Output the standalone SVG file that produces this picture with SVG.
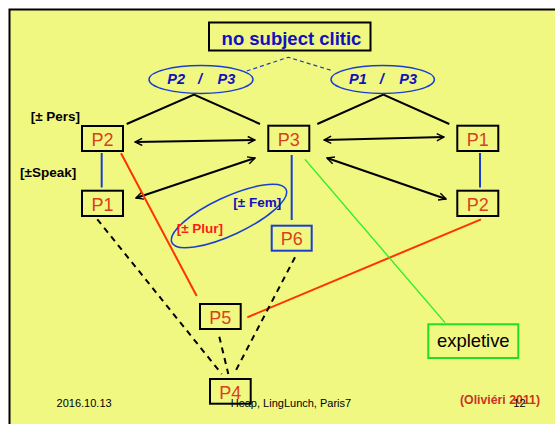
<svg xmlns="http://www.w3.org/2000/svg" width="555" height="424" viewBox="0 0 555 424">
<style>
.box{fill:none;stroke:#000;stroke-width:2}
.lbl{font-family:"Liberation Sans",Arial,sans-serif;font-size:18px;fill:#D9411E;text-anchor:middle}
.feat{font-family:"Liberation Sans",Arial,sans-serif;font-size:13.5px;font-weight:bold}
.ell{fill:none;stroke:#1A3FD0;stroke-width:1.5}
.ellt{font-family:"Liberation Sans",Arial,sans-serif;font-size:14.5px;font-weight:bold;font-style:italic;fill:#1010C0}
.tree{stroke:#000;stroke-width:2;fill:none}
.arr{stroke:#000;stroke-width:2;fill:none;marker-start:url(#ah);marker-end:url(#ah)}
.dash{stroke:#000;stroke-width:2;stroke-dasharray:6,5;fill:none}
.blue{stroke:#1A3FD0;stroke-width:2}
.red{stroke:#FF3300;stroke-width:2}
.foot{font-family:"Liberation Sans",Arial,sans-serif;font-size:11px;fill:#000}
</style>
<defs>
<marker id="ah" viewBox="0 0 10 10" refX="9" refY="5" markerWidth="9" markerHeight="9" markerUnits="userSpaceOnUse" orient="auto-start-reverse">
<path d="M1,1 L9,5 L1,9" fill="none" stroke="#000" stroke-width="1.6"/>
</marker>
</defs>
<rect x="0" y="0" width="555" height="424" fill="#fff"/>
<rect x="9.5" y="9.5" width="560" height="430" fill="#F0F882" stroke="#000" stroke-width="2"/>

<g id="connectors">
<polyline points="246.7,71 288.3,57.3 333.3,71" fill="none" stroke="#1A3FD0" stroke-width="1.2" stroke-dasharray="4,3"/>
<polyline class="tree" points="126.7,124 194,94.5 260,124"/>
<polyline class="tree" points="317.3,124 383.3,94.5 449.3,124"/>
<line class="arr" x1="135" y1="142" x2="255" y2="140"/>
<line class="arr" x1="136" y1="198" x2="255" y2="158"/>
<line class="arr" x1="324" y1="140" x2="444" y2="137"/>
<line class="arr" x1="327" y1="158" x2="446" y2="199"/>
<line class="blue" x1="101.7" y1="153" x2="101.7" y2="187.5"/>
<line class="blue" x1="480" y1="153" x2="480" y2="187.5"/>
<line class="blue" x1="291.7" y1="155" x2="291.7" y2="220"/>
<line class="red" x1="121" y1="153.3" x2="196.7" y2="296"/>
<line class="red" x1="481" y1="219.3" x2="247.3" y2="317.3"/>
<line x1="305" y1="159.3" x2="445" y2="322.7" stroke="#22EE22" stroke-width="1.3"/>
<line class="dash" x1="97.3" y1="219.3" x2="221.7" y2="374"/>
<line class="dash" x1="219.3" y1="336.7" x2="228.3" y2="374"/>
<line class="dash" x1="295" y1="257.3" x2="234" y2="374"/>
</g>

<g id="title">
<rect x="209" y="22.5" width="161.5" height="28" fill="none" stroke="#000" stroke-width="2"/>
<text x="291.5" y="45" font-family="Liberation Sans,Arial,sans-serif" font-size="18.5" font-weight="bold" fill="#1010C0" text-anchor="middle">no subject clitic</text>
</g>

<g id="ell-left">
<ellipse class="ell" cx="201" cy="79.5" rx="52" ry="14"/>
<text class="ellt" y="84.3"><tspan x="167.3">P2</tspan><tspan x="198">/</tspan><tspan x="217.6">P3</tspan></text>
</g>
<g id="ell-right">
<ellipse class="ell" cx="382.7" cy="79.5" rx="51.7" ry="14"/>
<text class="ellt" y="84.3"><tspan x="349">P1</tspan><tspan x="379.7">/</tspan><tspan x="399.3">P3</tspan></text>
</g>

<g id="feat-labels">
<text class="feat" x="30.7" y="120.7" fill="#000">[± Pers]</text>
<text class="feat" x="20" y="176.7" fill="#000">[±Speak]</text>
</g>

<g id="ell-plur">
<ellipse class="ell" cx="229" cy="216" rx="63" ry="19" transform="rotate(-25 229 216)"/>
<text class="feat" x="233.3" y="206.7" fill="#1010C0">[± Fem]</text>
<text class="feat" x="176.7" y="233.3" fill="#FF1A1A">[± Plur]</text>
</g>

<g id="node-P2">
<rect class="box" x="82" y="126" width="41" height="25"/>
<text class="lbl" x="102.5" y="145.5">P2</text>
</g>
<g id="node-P3">
<rect class="box" x="268.3" y="125.7" width="41" height="25.3"/>
<text class="lbl" x="288.8" y="145.5">P3</text>
</g>
<g id="node-P1r">
<rect class="box" x="457.3" y="125.7" width="41" height="25.3"/>
<text class="lbl" x="477.8" y="145.5">P1</text>
</g>
<g id="node-P1">
<rect class="box" x="82" y="190.7" width="41" height="25.3"/>
<text class="lbl" x="102.5" y="210.5">P1</text>
</g>
<g id="node-P2r">
<rect class="box" x="457.3" y="190.7" width="41" height="25.3"/>
<text class="lbl" x="477.8" y="210.5">P2</text>
</g>
<g id="node-P6">
<rect x="271.7" y="225.7" width="40" height="25" fill="none" stroke="#1A3FD0" stroke-width="2"/>
<text class="lbl" x="291.7" y="245.3">P6</text>
</g>
<g id="node-P5">
<rect class="box" x="200" y="304" width="40.7" height="25"/>
<text class="lbl" x="220.3" y="323.5">P5</text>
</g>
<g id="node-expletive">
<rect x="428.3" y="324.3" width="90" height="33.7" fill="none" stroke="#22DD22" stroke-width="2"/>
<text x="473.3" y="346.7" font-family="Liberation Sans,Arial,sans-serif" font-size="18.4" fill="#000" text-anchor="middle">expletive</text>
</g>
<g id="node-P4">
<rect class="box" x="210" y="379" width="40.7" height="24.7"/>
<text class="lbl" x="230.3" y="398.5">P4</text>
</g>

<g id="footer">
<text class="foot" x="56.6" y="406.7">2016.10.13</text>
<text class="foot" x="230.7" y="406.7">Heap, LingLunch, Paris7</text>
<text x="460" y="404" font-family="Liberation Sans,Arial,sans-serif" font-size="12.3" font-weight="bold" fill="#CC3322">(Olivi&#233;ri 2011)</text>
<text class="foot" x="513.3" y="406.7">12</text>
</g>
</svg>
